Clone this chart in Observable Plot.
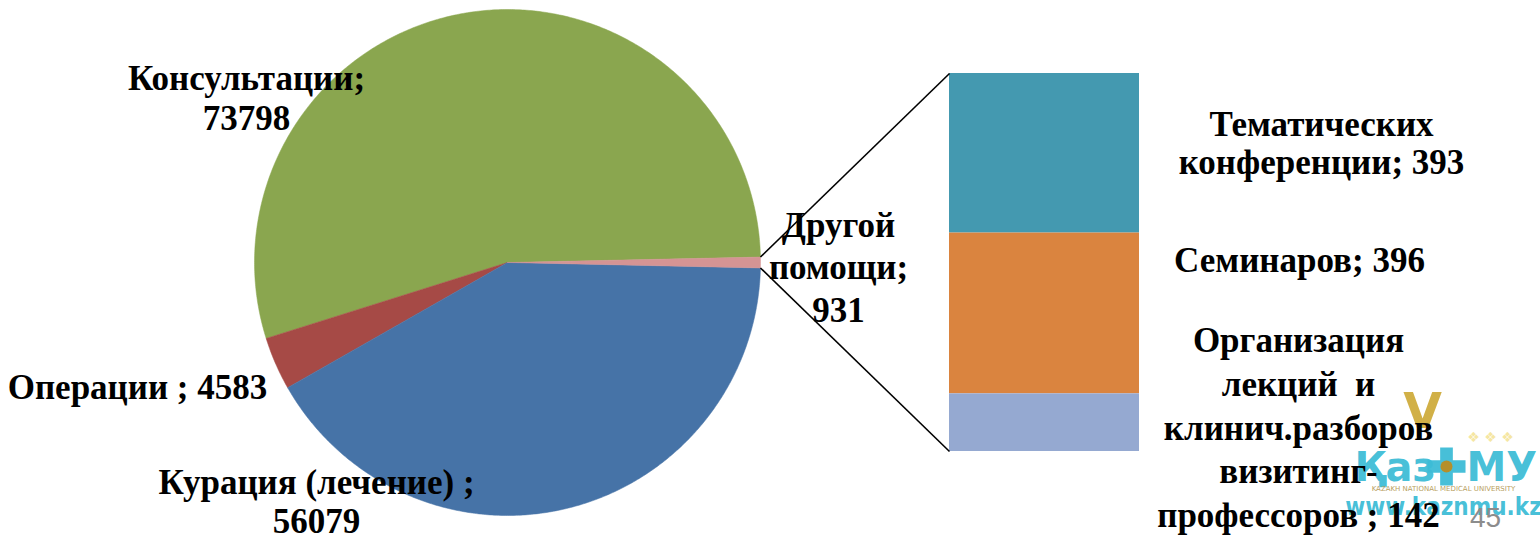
<!DOCTYPE html>
<html>
<head>
<meta charset="utf-8">
<script src="https://cdn.jsdelivr.net/npm/d3@7"></script>
<script src="https://cdn.jsdelivr.net/npm/@observablehq/plot@0.6"></script>
<style>
  html, body { margin: 0; padding: 0; background: #ffffff; }
  #chart { width: 1540px; height: 536px; overflow: hidden; }
  #chart svg text.serif, #chart svg g.serif text { font-family: "Liberation Serif", "DejaVu Serif", serif; }
</style>
</head>
<body>
<div id="chart"></div>
<script>
// ---- data ----
const categories = ["Консультации", "Операции", "Курация (лечение)", "Другой помощи"];
const values = [73798, 4583, 56079, 931];
const labelNames = ["Консультации;", "Операции ;", "Курация (лечение) ;", "Другой\nпомощи;"];
const labelSeps = ["\n", " ", "\n", "\n"];
const pieColors = ["#8AA64F", "#A64A46", "#4673A7", "#D59494"];

const subCategories = ["Тематических конференции", "Семинаров", "Организация лекций и клинич.разборов визитинг-профессоров"];
const subValues = [393, 396, 142];
const subLabelNames = ["Тематических\nконференции;", "Семинаров;", "Организация\nлекций  и\nклинич.разборов\nвизитинг-\nпрофессоров ;"];
const subColors = ["#4499B0", "#DA843F", "#95A9D1"];

const pageNumber = "45";

// ---- layout (pixels) ----
const W = 1540, H = 536;
const CX = 507, CY = 262, R = 253;          // pie centre and radius
const BAR = {x1: 949, x2: 1139, y1: 73, y2: 451};
const FS = 35;
const pieLabelPos = [
  {x: 246, y: 97, lh: 40},
  {x: 137, y: 386, lh: 40},
  {x: 316, y: 501, lh: 39},
  {x: 838, y: 265, lh: 42.5}
];
const subLabelPos = [
  {x: 1321, y: 142, lh: 38},
  {x: 1299, y: 259, lh: 40},
  {x: 1298, y: 425, lh: 43.75}
];

// pixel -> pie units helpers
const ux = px => (px - CX) / R;
const uy = py => (CY - py) / R;

// ---- pie geometry (angles in math convention, counter-clockwise) ----
const total = d3.sum(values);
const otherIdx = values.length - 1;
const startTheta = Math.PI * values[otherIdx] / total; // upper edge of "other" slice
let theta = startTheta;
const slices = values.map((v, i) => {
  const a0 = theta;
  const a1 = theta + 2 * Math.PI * v / total;
  theta = a1;
  return {i, name: categories[i], value: v, a0, a1};
});
const slicePts = [];
for (const s of slices) {
  const n = Math.max(4, Math.ceil((s.a1 - s.a0) / (Math.PI / 360)));
  slicePts.push({k: s.i, x: 0, y: 0});
  for (let j = 0; j <= n; j++) {
    const a = s.a0 + (s.a1 - s.a0) * j / n;
    slicePts.push({k: s.i, x: Math.cos(a), y: Math.sin(a)});
  }
  slicePts.push({k: s.i, x: 0, y: 0});
}
const other = slices[otherIdx];

// ---- stacked bar for the "other" breakdown ----
const subTotal = d3.sum(subValues);
const barTop = uy(BAR.y1), barBot = uy(BAR.y2);
const k = (barTop - barBot) / subTotal;
let cum = 0;
const subRects = subValues.map((v, i) => {
  const r = {i, name: subCategories[i], value: v,
    x1: ux(BAR.x1), x2: ux(BAR.x2),
    y1: barTop - cum * k, y2: barTop - (cum + v) * k};
  cum += v;
  return r;
});

// connector lines from the "other" slice to the bar
const connectors = [
  {x1: Math.cos(other.a1), y1: Math.sin(other.a1), x2: ux(BAR.x1), y2: barTop},
  {x1: Math.cos(other.a0), y1: Math.sin(other.a0), x2: ux(BAR.x1), y2: barBot}
];

const textFont = "Liberation Serif";
const sans = "DejaVu Sans";

const marks = [];
slices.forEach(s => {
  marks.push(Plot.line(slicePts.filter(p => p.k === s.i), {
    x: "x", y: "y", fill: pieColors[s.i], stroke: pieColors[s.i], strokeWidth: 0.5,
    curve: "linear"
  }));
});
marks.push(Plot.rect(subRects, {
  x1: "x1", x2: "x2", y1: "y1", y2: "y2",
  fill: d => subColors[d.i], inset: 0
}));
marks.push(Plot.link(connectors, {
  x1: "x1", y1: "y1", x2: "x2", y2: "y2", stroke: "#000", strokeWidth: 1.6
}));

// logo watermark (approximation), drawn behind the labels
const cyan = "#3DBCD6";
marks.push(Plot.text([{x: ux(1422), y: uy(392)}], {x: "x", y: "y", text: () => "V",
  fontFamily: sans, fontWeight: "bold", fontSize: 50, fill: "#C9A227",
  textAnchor: "middle", lineAnchor: "top", fillOpacity: 0.85}));
marks.push(Plot.text([{x: ux(1490), y: uy(437)}], {x: "x", y: "y", text: () => "❖ ❖ ❖",
  fontFamily: sans, fontSize: 14, fill: "#F1DC7A", textAnchor: "middle", lineAnchor: "middle", fillOpacity: 0.7}));
marks.push(Plot.text([{x: ux(1354), y: uy(468)}], {x: "x", y: "y", text: () => "Қаз",
  fontFamily: sans, fontWeight: "bold", fontSize: 40, fill: cyan,
  textAnchor: "start", lineAnchor: "middle", fillOpacity: 0.95}));
marks.push(Plot.dot([{x: ux(1446), y: uy(466)}], {x: "x", y: "y", symbol: "cross", r: 16, fill: cyan, stroke: "none", fillOpacity: 0.95}));
marks.push(Plot.dot([{x: ux(1446), y: uy(466)}], {x: "x", y: "y", r: 6, fill: "#B58F2A", stroke: "none"}));
marks.push(Plot.text([{x: ux(1466), y: uy(468)}], {x: "x", y: "y", text: () => "МУ",
  fontFamily: sans, fontWeight: "bold", fontSize: 40, fill: cyan,
  textAnchor: "start", lineAnchor: "middle", fillOpacity: 0.95}));
marks.push(Plot.text([{x: ux(1443), y: uy(488)}], {x: "x", y: "y", text: () => "KAZAKH NATIONAL MEDICAL UNIVERSITY",
  fontFamily: sans, fontSize: 7, fill: "#B8A060", textAnchor: "middle", lineAnchor: "middle"}));
marks.push(Plot.text([{x: ux(1443), y: uy(507)}], {x: "x", y: "y", text: () => "www.kaznmu.kz",
  fontFamily: "DejaVu Sans Condensed", fontWeight: "bold", fontSize: 24, fill: cyan,
  textAnchor: "middle", lineAnchor: "middle", fillOpacity: 0.95}));
marks.push(Plot.text([{x: ux(1485), y: uy(518)}], {x: "x", y: "y", text: () => pageNumber,
  fontFamily: "Liberation Sans", fontSize: 28, fill: "#8C8C8C",
  textAnchor: "middle", lineAnchor: "middle"}));

values.forEach((v, i) => {
  const p = pieLabelPos[i];
  marks.push(Plot.text([{x: ux(p.x), y: uy(p.y), t: labelNames[i] + labelSeps[i] + v}], {
    x: "x", y: "y", text: "t", fontFamily: textFont, fontWeight: "bold", className: "serif",
    fontSize: FS, lineHeight: p.lh / FS, textAnchor: "middle", lineAnchor: "middle", fill: "#000"
  }));
});
subValues.forEach((v, i) => {
  const p = subLabelPos[i];
  marks.push(Plot.text([{x: ux(p.x), y: uy(p.y), t: subLabelNames[i] + " " + v}], {
    x: "x", y: "y", text: "t", fontFamily: textFont, fontWeight: "bold", className: "serif",
    fontSize: FS, lineHeight: p.lh / FS, textAnchor: "middle", lineAnchor: "middle", fill: "#000"
  }));
});

const chart = Plot.plot({
  width: W, height: H,
  margin: 0,
  style: {background: "#ffffff", overflow: "visible"},
  x: {type: "linear", domain: [ux(0), ux(W)], range: [0, W], axis: null},
  y: {type: "linear", domain: [uy(H), uy(0)], range: [H, 0], axis: null},
  marks
});
document.getElementById("chart").appendChild(chart);
</script>
</body>
</html>
